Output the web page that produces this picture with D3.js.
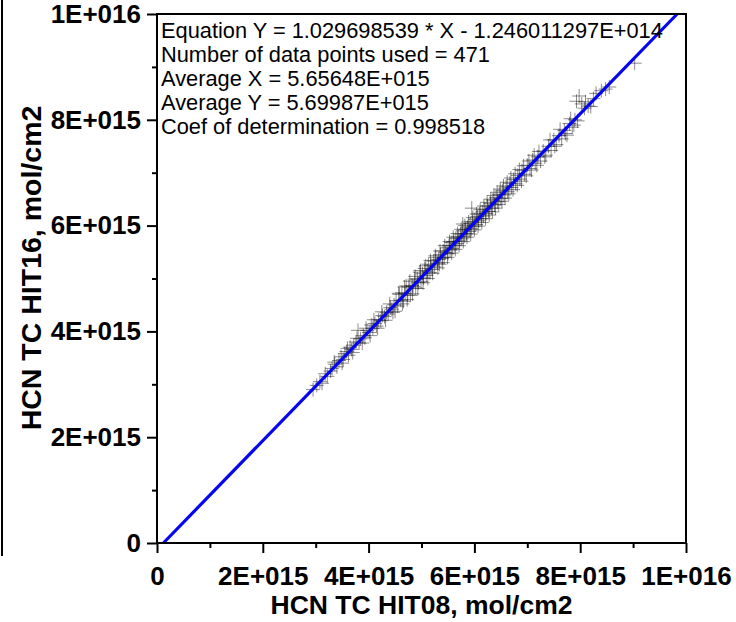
<!DOCTYPE html>
<html>
<head>
<meta charset="utf-8">
<script src="https://cdn.jsdelivr.net/npm/d3@7/dist/d3.min.js"></script>
<style>
  html, body { margin: 0; padding: 0; background: #fff; }
  svg { display: block; }
  text { font-family: "Liberation Sans", Arial, sans-serif; }
</style>
</head>
<body>
<svg id="chart" width="736" height="622"></svg>
<script>
// HCN total column, HIT08 (x) vs HIT16 (y), in units of 1E+015 mol/cm2
const hit08 = [
  2.95, 3.02, 3.08, 3.12, 3.18, 3.22, 3.28, 3.31, 3.36, 3.40,
  3.44, 3.48, 3.52, 3.55, 3.58, 3.62, 3.65, 3.68, 3.72, 3.76,
  3.80, 3.82, 3.85, 3.90, 3.93, 3.97, 4.01, 4.05, 4.08, 4.12,
  4.15, 4.19, 4.23, 4.26, 4.30, 4.34, 4.37, 4.41, 4.44, 4.48,
  4.52, 4.55, 4.58, 4.61, 4.63, 4.66, 4.69, 4.71, 4.74, 4.76,
  4.79, 4.82, 4.84, 4.87, 4.89, 4.92, 4.94, 4.97, 4.99, 5.02,
  5.04, 5.06, 5.09, 5.11, 5.13, 5.16, 5.18, 5.20, 5.23, 5.25,
  5.27, 5.30, 5.32, 5.34, 5.36, 5.39, 5.41, 5.43, 5.45, 5.48,
  5.50, 5.52, 5.54, 5.56, 5.59, 5.61, 5.63, 5.65, 5.67, 5.70,
  5.72, 5.74, 5.76, 5.78, 5.78, 5.81, 5.83, 5.85, 5.87, 5.90,
  5.92, 5.94, 5.95, 5.96, 5.99, 6.01, 6.03, 6.06, 6.08, 6.10,
  6.13, 6.15, 6.17, 6.20, 6.22, 6.25, 6.27, 6.30, 6.32, 6.35,
  6.38, 6.41, 6.44, 6.47, 6.50, 6.53, 6.56, 6.60, 6.63, 6.67,
  6.70, 6.74, 6.78, 6.82, 6.86, 6.90, 6.95, 7.00, 7.05, 7.10,
  7.15, 7.20, 7.25, 7.30, 7.35, 7.40, 7.45, 7.50, 7.55, 7.60,
  7.65, 7.70, 7.75, 7.80, 7.85, 7.90, 7.93, 7.95, 7.98, 8.03,
  8.08, 8.15, 8.25, 8.40, 8.55, 9.03,
  4.50, 4.57, 4.64, 4.68, 4.73, 4.78, 4.83, 4.88, 4.93, 4.98,
  5.03, 5.08, 5.12, 5.17, 5.21, 5.26, 5.31, 5.35, 5.40, 5.44,
  5.49, 5.53, 5.57, 5.60, 5.64, 5.68, 5.71, 5.75, 5.79, 5.82,
  5.86, 5.89, 5.93, 5.97, 6.00, 6.04, 6.07, 6.11, 6.14, 6.18,
  6.21, 6.24, 6.28, 6.31, 6.34, 6.37, 6.40, 6.43, 6.46, 6.49,
  6.52, 6.55, 6.58, 6.62, 6.65, 6.69, 6.73, 6.77, 6.81, 6.85,
  6.89, 6.93, 6.98, 7.03, 7.08, 7.13, 7.18,
  3.35, 3.50, 3.60, 3.70, 3.78, 3.88, 3.95, 4.03, 4.10, 4.17,
  4.25, 4.32, 4.40, 4.46,
  7.22, 7.33, 7.43, 7.52, 7.62, 7.72, 7.82, 7.88, 8.10, 8.20,
  8.30, 8.48
];
const hit16 = [
  2.90, 2.98, 3.05, 3.02, 3.20, 3.15, 3.25, 3.30, 3.38, 3.33,
  3.45, 3.52, 3.47, 3.58, 3.62, 3.55, 3.70, 3.66, 3.74, 3.80,
  4.02, 3.78, 3.86, 3.92, 3.88, 4.02, 3.98, 4.12, 4.06, 4.15,
  4.10, 4.22, 4.20, 4.30, 4.28, 4.36, 4.33, 4.45, 4.42, 4.50,
  4.58, 4.48, 4.70, 4.59, 4.73, 4.57, 4.72, 4.86, 4.69, 4.84,
  4.68, 4.87, 4.85, 4.99, 4.82, 4.99, 4.92, 5.12, 4.94, 5.09,
  5.01, 5.19, 5.06, 5.14, 5.27, 5.11, 5.25, 5.17, 5.33, 5.22,
  5.40, 5.29, 5.36, 5.27, 5.45, 5.38, 5.52, 5.40, 5.49, 5.58,
  5.47, 5.62, 5.54, 5.68, 5.57, 5.70, 5.63, 5.76, 5.66, 5.79,
  5.71, 5.84, 5.75, 5.90, 6.03, 5.80, 5.93, 5.85, 5.97, 5.89,
  6.04, 5.94, 6.33, 6.07, 5.99, 6.12, 6.02, 6.17, 6.09, 6.22,
  6.13, 6.26, 6.18, 6.31, 6.23, 6.37, 6.27, 6.42, 6.33, 6.48,
  6.39, 6.53, 6.45, 6.59, 6.51, 6.66, 6.58, 6.73, 6.64, 6.80,
  6.72, 6.87, 6.79, 6.95, 6.88, 7.04, 6.97, 7.14, 7.08, 7.24,
  7.18, 7.30, 7.22, 7.41, 7.33, 7.50, 7.42, 7.62, 7.53, 7.70,
  7.64, 7.80, 7.71, 7.93, 7.86, 8.00, 8.35, 7.98, 8.45, 8.30,
  8.22, 8.26, 8.40, 8.55, 8.62, 9.07,
  4.38, 4.72, 4.52, 4.84, 4.60, 4.95, 4.71, 5.04, 4.81, 5.15,
  4.92, 5.24, 5.00, 5.34, 5.10, 5.43, 5.20, 5.52, 5.30, 5.62,
  5.40, 5.70, 5.48, 5.78, 5.55, 5.85, 5.62, 5.93, 5.70, 6.00,
  5.78, 6.07, 5.84, 6.15, 5.92, 6.22, 5.99, 6.30, 6.06, 6.37,
  6.13, 6.44, 6.20, 6.50, 6.26, 6.57, 6.33, 6.63, 6.40, 6.69,
  6.46, 6.75, 6.52, 6.82, 6.60, 6.90, 6.68, 6.98, 6.76, 7.06,
  6.84, 7.13, 6.94, 7.22, 7.05, 7.33, 7.14,
  3.42, 3.40, 3.68, 3.60, 3.87, 3.78, 4.06, 3.92, 4.22, 4.06,
  4.37, 4.21, 4.52, 4.36,
  7.40, 7.30, 7.62, 7.50, 7.82, 7.74, 8.02, 7.90, 8.34, 8.25,
  8.50, 8.58
];

// Axis ticks (values in 1E+015) and their labels
const majorTicks = [0, 2, 4, 6, 8, 10];
const minorTicks = [1, 3, 5, 7, 9];
const tickLabels = ["0", "2E+015", "4E+015", "6E+015", "8E+015", "1E+016"];

// Linear fit reported by the regression
const fitSlope = 1.029698539;
const fitIntercept = -1.246011297E+014 / 1e15;

const statLines = [
  "Equation Y = 1.029698539 * X - 1.246011297E+014",
  "Number of data points used = 471",
  "Average X = 5.65648E+015",
  "Average Y = 5.69987E+015",
  "Coef of determination = 0.998518"
];

const xTitle = "HCN TC HIT08, mol/cm2";
const yTitle = "HCN TC HIT16, mol/cm2";

const svg = d3.select("#chart");
const plotLeft = 157, plotRight = 686, plotTop = 14, plotBottom = 543;

const x = d3.scaleLinear().domain([0, 10]).range([plotLeft, plotRight]);
const y = d3.scaleLinear().domain([0, 10]).range([plotBottom, plotTop]);

// stray frame edge on the far left
svg.append("line")
  .attr("x1", 2).attr("x2", 2).attr("y1", 0).attr("y2", 556)
  .attr("stroke", "#000").attr("stroke-width", 2);

// scatter markers (+)
const pts = hit08.map((v, i) => [v, hit16[i]]);
const arm = 7;
svg.append("g")
  .selectAll("path")
  .data(pts)
  .join("path")
  .attr("d", d => {
    const cx = x(d[0]), cy = y(d[1]);
    return `M${cx - arm},${cy}H${cx + arm}M${cx},${cy - arm}V${cy + arm}`;
  })
  .attr("fill", "none")
  .attr("stroke", "#000")
  .attr("stroke-opacity", 0.45)
  .attr("stroke-width", 1);

// regression line, clipped to the plotted range 0..1E+016 on y
const xAtY0 = (0 - fitIntercept) / fitSlope;
const xAtYmax = (10 - fitIntercept) / fitSlope;
svg.append("line")
  .attr("x1", x(xAtY0)).attr("y1", y(fitSlope * xAtY0 + fitIntercept))
  .attr("x2", x(xAtYmax)).attr("y2", y(fitSlope * xAtYmax + fitIntercept))
  .attr("stroke", "#0505f0")
  .attr("stroke-width", 3.2);

// frame
svg.append("rect")
  .attr("x", plotLeft).attr("y", plotTop)
  .attr("width", plotRight - plotLeft).attr("height", plotBottom - plotTop)
  .attr("fill", "none").attr("stroke", "#000").attr("stroke-width", 2);

const labelOf = v => tickLabels[majorTicks.indexOf(v)];

function styleAxis(g) {
  g.select(".domain").remove();
  g.selectAll(".tick line").attr("stroke", "#000").attr("stroke-width", 2);
  g.selectAll(".tick text")
    .attr("fill", "#000")
    .style("font-size", "26px")
    .style("font-weight", "bold");
}

// y axis
svg.append("g")
  .attr("transform", `translate(${plotLeft},0)`)
  .call(d3.axisLeft(y).tickValues(majorTicks).tickFormat(labelOf).tickSize(10).tickPadding(6))
  .call(styleAxis);
svg.append("g")
  .attr("transform", `translate(${plotLeft},0)`)
  .call(d3.axisLeft(y).tickValues(minorTicks).tickFormat("").tickSize(5))
  .call(styleAxis);

// x axis
svg.append("g")
  .attr("transform", `translate(0,${plotBottom})`)
  .call(d3.axisBottom(x).tickValues(majorTicks).tickFormat(labelOf).tickSize(10).tickPadding(14))
  .call(styleAxis);
svg.append("g")
  .attr("transform", `translate(0,${plotBottom})`)
  .call(d3.axisBottom(x).tickValues(minorTicks).tickFormat("").tickSize(5))
  .call(styleAxis);

// axis titles
svg.append("text")
  .attr("x", (plotLeft + plotRight) / 2).attr("y", 614)
  .attr("text-anchor", "middle")
  .style("font-size", "26.5px").style("font-weight", "bold")
  .text(xTitle);

svg.append("text")
  .attr("transform", `translate(41,268) rotate(-90)`)
  .attr("text-anchor", "middle")
  .style("font-size", "28.5px").style("font-weight", "bold")
  .text(yTitle);

// regression statistics
svg.append("g")
  .selectAll("text")
  .data(statLines)
  .join("text")
  .attr("x", 161)
  .attr("y", (d, i) => 38 + i * 24)
  .style("font-size", "21.8px")
  .attr("fill", "#000")
  .text(d => d);
</script>
</body>
</html>
